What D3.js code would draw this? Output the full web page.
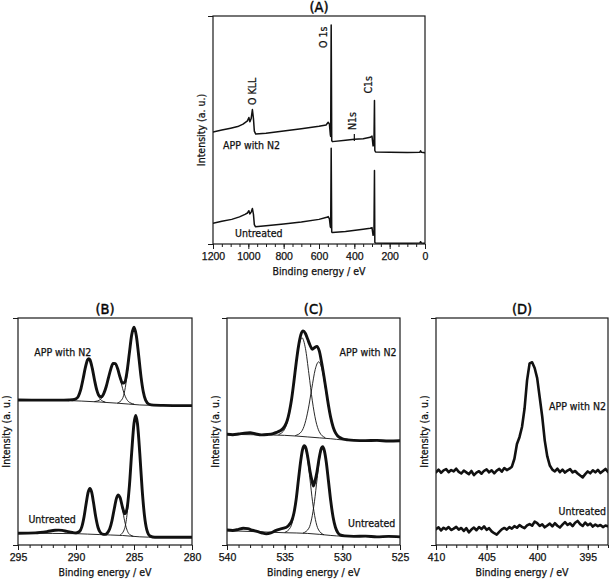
<!DOCTYPE html>
<html>
<head>
<meta charset="utf-8">
<script src="https://cdn.jsdelivr.net/npm/d3@7.9.0/dist/d3.min.js"></script>
<style>
  html, body { margin: 0; padding: 0; background: #fff; }
  svg { display: block; font-family: "DejaVu Sans Condensed", "DejaVu Sans", sans-serif; }
  svg text { stroke: #111; stroke-width: 0.25px; }
  .frame { fill: none; stroke: #1a1a1a; stroke-width: 1.2; }
  .tick line { stroke: #1a1a1a; stroke-width: 1; }
  .tick text { fill: #111; font-size: 10.5px; }
  .domain { display: none; }
  .trace { fill: none; stroke: #111; stroke-linejoin: round; stroke-linecap: round; }
  .lbl { fill: #111; font-size: 10.5px; }
</style>
</head>
<body>
<svg id="chart" width="610" height="580"></svg>
<script>
// ---- (A) survey spectra: [binding energy eV, intensity a.u.]
const surveyApp = [[1200,49.1],[1150,50.0],[1100,50.8],[1060,51.5],[1030,52.6],[1005,54.0],[997,55.5],[991,53.6],[984,55.0],[977,59.0],[971,55.0],[966,49.5],[958,48.2],[900,48.6],[800,49.6],[700,50.6],[600,51.6],[560,52.2],[548,53.4],[541,52.6],[536,48.0],[534,47.2],[531,96.0],[528,45.4],[524,44.9],[450,45.5],[400,45.9],[350,46.2],[310,46.8],[300,47.3],[294,43.0],[289,44.0],[286,62.9],[284,41.0],[280,40.4],[200,40.2],[100,40.1],[30,40.2],[25,40.9],[20,40.2],[0,40.0]];
const surveyUntreated = [[1200,9.1],[1150,10.0],[1094,10.8],[1050,11.9],[1019,13.0],[1005,13.6],[997,14.6],[991,13.2],[984,14.0],[977,15.6],[971,13.0],[966,8.5],[960,7.6],[900,8.0],[800,8.8],[700,9.7],[600,10.8],[556,11.7],[548,12.0],[541,11.0],[536,7.6],[534,7.2],[531,42.0],[528,5.3],[524,5.0],[450,5.5],[350,6.5],[310,6.9],[300,7.2],[294,3.8],[289,4.5],[286,32.2],[284,0.8],[280,0.4],[200,0.3],[100,0.3],[30,0.4],[25,1.0],[20,0.4],[0,0.3]];
const surveyPeaks = [
  { text: 'O KLL', e: 975, v: 61, dx: 0 },
  { text: 'O 1s', e: 532, v: 86, dx: -8 },
  { text: 'N1s', e: 400, v: 50, dx: -2 },
  { text: 'C1s', e: 286, v: 66, dx: -6 }
];

// ---- (B) C 1s
const c1sApp = [[295,63.9],[293,63.8],[291.5,63.8],[290.6,63.9],[290.3,64.0],[290.0,64.4],[289.8,65.5],[289.6,68.3],[289.4,72.9],[289.2,78.0],[289.0,81.6],[288.9,82.1],[288.8,81.6],[288.6,77.9],[288.4,72.6],[288.2,68.1],[288.0,65.7],[287.8,65.3],[287.6,66.8],[287.4,69.7],[287.2,73.7],[287.0,77.5],[286.8,80.0],[286.6,79.9],[286.4,77.5],[286.2,73.9],[286.0,71.3],[285.8,71.7],[285.6,76.4],[285.4,84.5],[285.2,92.5],[285.0,95.9],[284.8,92.2],[284.6,83.6],[284.4,74.3],[284.2,67.5],[284.0,63.8],[283.7,62.0],[283.3,61.6],[282.5,61.5],[281,61.4],[280,61.4]];
const c1sAppBg = [[295,63.9],[291,63.7],[289.5,63.4],[288,63.0],[286.5,62.5],[285.5,62.1],[284.5,61.7],[283,61.5],[280,61.4]];
const c1sAppFit1 = [[290.3,63.7],[289.9,64.7],[289.7,66.7],[289.5,70.4],[289.3,75.4],[289.1,80.2],[288.9,82.1],[288.7,80.1],[288.5,75.2],[288.3,70.1],[288.1,66.2],[287.9,64.2],[287.5,63.0]];
const c1sAppFit2 = [[288.38,63.2],[287.9,64.1],[287.66,65.9],[287.42,69.3],[287.18,74.1],[286.94,78.5],[286.7,80.2],[286.46,78.3],[286.22,73.8],[285.98,68.9],[285.74,65.3],[285.5,63.3],[285.02,62.1]];
const c1sAppFit3 = [[286.4,62.6],[286.0,64.4],[285.8,68.0],[285.6,74.7],[285.4,83.8],[285.2,92.3],[285.0,95.8],[284.8,92.2],[284.6,83.6],[284.4,74.3],[284.2,67.5],[284.0,63.8],[283.6,61.75]];
const c1sRaw = [[295,5.2],[293.5,5.35],[292.5,5.9],[291.8,6.5],[291.5,6.55],[291.2,6.45],[290.8,6.0],[290.3,5.5],[290.0,5.35],[289.7,5.95],[289.5,8.0],[289.3,12.6],[289.1,19.1],[288.95,23.3],[288.8,24.95],[288.65,23.25],[288.5,19.0],[288.3,12.4],[288.1,7.7],[287.9,5.5],[287.7,4.8],[287.5,4.7],[287.3,5.3],[287.1,7.0],[286.9,10.7],[286.7,16.0],[286.5,20.75],[286.35,22.05],[286.2,20.9],[286.0,16.8],[285.8,13.75],[285.6,16.1],[285.4,25.8],[285.2,40.7],[285.0,53.55],[284.85,57.05],[284.7,53.4],[284.5,40.25],[284.3,24.65],[284.1,13.05],[283.9,6.8],[283.6,3.9],[283.2,3.4],[282,3.4],[280,3.4]];
const c1sRawBg = [[295,5.2],[292,5.1],[290,5.0],[289,4.8],[288,4.6],[287,4.4],[286,4.2],[285.3,3.9],[284.5,3.6],[283,3.4],[280,3.4]];
const c1sRawFit1 = [[289.99,4.95],[289.65,6.1],[289.48,8.25],[289.31,12.3],[289.14,17.8],[288.97,22.9],[288.8,24.95],[288.63,22.8],[288.46,17.7],[288.29,12.2],[288.12,8.1],[287.95,5.9],[287.61,4.7]];
const c1sRawFit2 = [[287.61,4.6],[287.25,5.5],[287.07,7.4],[286.89,10.9],[286.71,15.7],[286.53,20.2],[286.35,22.0],[286.17,20.1],[285.99,15.6],[285.81,10.65],[285.63,7.05],[285.45,5.05],[285.09,3.9]];
const c1sRawFit3 = [[286.18,4.4],[285.8,7.4],[285.61,13.05],[285.42,23.6],[285.23,38.1],[285.04,51.5],[284.85,57.05],[284.66,51.4],[284.47,37.85],[284.28,23.3],[284.09,12.6],[283.9,6.85],[283.52,3.7]];

// ---- (C) O 1s
const o1sApp = [[540,48.8],[539.5,48.6],[539,48.9],[538.5,49.3],[538,49.5],[537.5,48.9],[537,48.5],[536.5,48.7],[536,49.1],[535.7,49.6],[535.4,50.3],[535.0,52.3],[534.8,54.5],[534.6,58.5],[534.4,64.2],[534.2,71.9],[534.0,80.3],[533.8,87.6],[533.6,92.6],[533.4,94.35],[533.2,93.2],[533.0,90.6],[532.8,88.0],[532.6,86.2],[532.4,87.0],[532.2,87.5],[532.0,85.5],[531.8,80.5],[531.6,74.5],[531.4,68.0],[531.2,61.5],[531.0,56.0],[530.8,52.0],[530.6,49.5],[530.4,48.0],[530.0,46.8],[529.5,46.3],[529,46.1],[528,46.0],[527,46.1],[526,45.8],[525,45.9]];
const o1sAppBg = [[540,48.8],[538,48.6],[536,48.45],[535,48.3],[534,48.0],[533,47.6],[532,47.2],[531,46.8],[530,46.3],[528,46.0],[525,45.9]];
const o1sAppFit1 = [[535.5,48.7],[535.0,51.0],[534.7,55.6],[534.4,64.15],[534.1,75.95],[533.8,86.8],[533.5,91.3],[533.2,86.6],[532.9,75.45],[532.6,63.5],[532.3,54.7],[532.0,49.9],[531.5,47.3]];
const o1sAppFit2 = [[534.05,48.25],[533.55,49.9],[533.25,53.4],[532.95,59.95],[532.65,68.95],[532.35,77.35],[532.05,80.7],[531.75,77.1],[531.45,68.5],[531.15,59.2],[530.85,52.4],[530.55,48.65],[530.05,46.55]];
const o1sRaw = [[540,6.6],[539.5,6.4],[539,6.9],[538.6,7.4],[538.2,7.2],[537.8,6.5],[537.4,6.0],[537,5.4],[536.6,4.9],[536.2,5.3],[535.8,6.3],[535.4,7.0],[535.1,7.4],[534.8,8.0],[534.6,9.0],[534.4,10.5],[534.2,14.0],[534.0,20.2],[533.8,29.0],[533.6,37.4],[533.45,42.0],[533.3,43.7],[533.15,42.5],[533.0,38.8],[532.8,32.4],[532.65,28.7],[532.5,26.0],[532.35,28.6],[532.2,32.2],[532.0,38.5],[531.85,42.1],[531.7,43.3],[531.55,41.35],[531.4,36.8],[531.2,28.1],[531.0,19.2],[530.8,12.2],[530.6,7.8],[530.4,5.5],[530.2,4.45],[529.8,4.0],[529,3.8],[528,3.9],[527,3.6],[526,3.8],[525,3.6]];
const o1sRawBg = [[540,6.3],[536,5.6],[535,5.4],[534,5.3],[533,5.1],[532,4.7],[531,4.2],[530,3.9],[528,3.8],[525,3.7]];
const o1sRawFit1 = [[534.98,5.57],[534.5,7.74],[534.26,11.81],[534.02,19.43],[533.78,29.84],[533.54,39.48],[533.3,43.45],[533.06,39.38],[532.82,29.59],[532.58,19.03],[532.34,11.31],[532.1,7.04],[531.62,4.57]];
const o1sRawFit2 = [[533.38,5.32],[532.9,7.41],[532.66,11.5],[532.42,19.05],[532.18,29.4],[531.94,39.1],[531.7,43.0],[531.46,38.85],[531.22,28.95],[530.98,18.35],[530.74,10.6],[530.5,6.41],[530.02,4.07]];

// ---- (D) N 1s, 0.25 eV steps from 410 eV
const n1sStart = 410, n1sStep = 0.25;
const n1sApp = [32.0,33.2,31.8,32.9,33.4,32.1,33.0,32.4,33.6,32.2,31.5,32.8,32.0,31.2,32.6,30.8,31.9,32.5,31.4,32.7,33.3,32.0,32.9,31.6,32.8,33.5,32.3,33.9,33.0,33.6,
  34.5,38.0,44.5,47.5,52.0,60.0,72.5,80.0,80.5,78.0,73.5,65.0,56.5,46.0,39.0,35.0,33.2,
  32.4,33.6,32.1,33.2,31.9,32.8,33.4,32.0,32.6,31.5,30.6,29.8,31.2,32.4,31.6,32.9,32.0,33.1,31.7,32.6,33.5,32.2];
const n1sRaw = [7.0,7.8,6.4,7.6,6.9,7.9,6.6,7.2,8.0,6.8,7.5,6.2,7.4,5.6,6.8,7.7,6.5,7.9,7.0,8.2,6.7,7.4,6.0,5.2,4.6,5.8,6.9,7.5,6.8,7.9,
  7.2,8.3,7.6,8.8,8.0,7.4,8.6,9.2,8.5,10.3,9.6,8.4,9.1,7.8,8.6,9.4,8.2,
  9.6,8.5,7.7,9.0,10.1,8.8,9.5,8.3,9.8,10.6,9.2,8.4,9.9,8.7,9.4,8.1,9.0,8.3,8.8,7.9,8.6,8.2];

const ticksA = [1200, 1000, 800, 600, 400, 200, 0];
const ticksB = [295, 290, 285, 280];
const ticksC = [540, 535, 530, 525];
const ticksD = [410, 405, 400, 395];

const svg = d3.select('#chart');
let clipId = 0;

function panel(o) {
  const x = d3.scaleLinear().domain(o.domain).range([o.left, o.right]);
  const y = d3.scaleLinear().domain([0, 100]).range([o.bottom, o.top]);
  const g = svg.append('g');
  const id = 'clip' + (clipId++);
  g.append('clipPath').attr('id', id).append('rect')
    .attr('x', o.left).attr('y', o.top).attr('width', o.right - o.left).attr('height', o.bottom - o.top);

  g.append('g').attr('transform', `translate(0,${o.bottom})`)
    .call(d3.axisBottom(x).tickValues(o.minor).tickSize(3).tickFormat(''));
  g.append('g').attr('transform', `translate(0,${o.bottom})`)
    .call(d3.axisBottom(x).tickValues(o.major).tickSize(5).tickPadding(4).tickFormat(d3.format('d')));
  g.append('g').attr('transform', `translate(${o.left},0)`)
    .call(d3.axisLeft(y).tickValues([0, 100]).tickSize(5).tickFormat(''));

  g.append('text').attr('x', (o.left + o.right) / 2).attr('y', o.top - 4)
    .attr('text-anchor', 'middle').style('font-size', '14.5px').style('stroke-width', '0.45px').text(o.title);
  g.append('text').attr('class', 'lbl').attr('x', (o.left + o.right) / 2).attr('y', o.bottom + 31)
    .attr('text-anchor', 'middle').text('Binding energy / eV');
  g.append('text').attr('class', 'lbl')
    .attr('transform', `translate(${o.left - 12},${(o.top + o.bottom) / 2}) rotate(-90)`)
    .attr('text-anchor', 'middle').attr('dy', '0.35em').text('Intensity (a. u.)');

  const plot = g.append('g').attr('clip-path', `url(#${id})`);
  g.append('rect').attr('class', 'frame')
    .attr('x', o.left).attr('y', o.top).attr('width', o.right - o.left).attr('height', o.bottom - o.top);
  return { g, plot, x, y };
}

function draw(p, data, width, curve) {
  const line = d3.line().x(d => p.x(d[0])).y(d => p.y(d[1])).curve(curve || d3.curveLinear);
  p.plot.append('path').datum(data).attr('class', 'trace').attr('stroke-width', width).attr('d', line);
}

function label(p, text, e, v, anchor) {
  p.g.append('text').attr('class', 'lbl').attr('x', p.x(e)).attr('y', p.y(v))
    .attr('text-anchor', anchor || 'start').text(text);
}

// (A)
const pA = panel({ left: 213, right: 425, top: 16, bottom: 244, domain: [1200, 0],
  major: ticksA, minor: d3.range(0, 1201, 50), title: '(A)' });
draw(pA, surveyApp, 1.5);
draw(pA, surveyUntreated, 1.5);
surveyPeaks.forEach(pk => {
  pA.g.append('text').attr('class', 'lbl')
    .attr('transform', `translate(${pA.x(pk.e) + pk.dx},${pA.y(pk.v)}) rotate(-90)`)
    .attr('dy', '0.35em').text(pk.text);
});
pA.g.append('line').attr('stroke', '#111').attr('stroke-width', 1.2)
  .attr('x1', pA.x(400)).attr('x2', pA.x(400)).attr('y1', pA.y(48.3)).attr('y2', pA.y(45.2));
label(pA, 'APP with N2', 1143, 41.7);
label(pA, 'Untreated', 1075, 3.1);

// (B)
const pB = panel({ left: 18, right: 192, top: 318, bottom: 545, domain: [295, 280],
  major: ticksB, minor: d3.range(280, 296, 1), title: '(B)' });
[c1sAppBg, c1sAppFit1, c1sAppFit2, c1sAppFit3, c1sRawBg, c1sRawFit1, c1sRawFit2, c1sRawFit3]
  .forEach(s => draw(pB, s, 0.9, d3.curveMonotoneX));
draw(pB, c1sApp, 2.9, d3.curveMonotoneX);
draw(pB, c1sRaw, 2.9, d3.curveMonotoneX);
label(pB, 'APP with N2', 293.6, 83.3);
label(pB, 'Untreated', 294.1, 9.7);

// (C)
const pC = panel({ left: 227, right: 400, top: 318, bottom: 545, domain: [540, 525],
  major: ticksC, minor: d3.range(525, 541, 1), title: '(C)' });
[o1sAppBg, o1sAppFit1, o1sAppFit2, o1sRawBg, o1sRawFit1, o1sRawFit2]
  .forEach(s => draw(pC, s, 0.9, d3.curveMonotoneX));
draw(pC, o1sApp, 2.9, d3.curveMonotoneX);
draw(pC, o1sRaw, 2.9, d3.curveMonotoneX);
label(pC, 'APP with N2', 525.3, 83.3, 'end');
label(pC, 'Untreated', 525.4, 7.9, 'end');

// (D)
const pD = panel({ left: 436, right: 608, top: 318, bottom: 545, domain: [410, 393],
  major: ticksD, minor: d3.range(393, 411, 1), title: '(D)' });
const n1sE = i => n1sStart - i * n1sStep;
draw(pD, n1sApp.map((v, i) => [n1sE(i), v]), 2.6);
draw(pD, n1sRaw.map((v, i) => [n1sE(i), v]), 2.6);
label(pD, 'APP with N2', 393.2, 59.5, 'end');
label(pD, 'Untreated', 393.2, 13.4, 'end');
</script>
</body>
</html>
